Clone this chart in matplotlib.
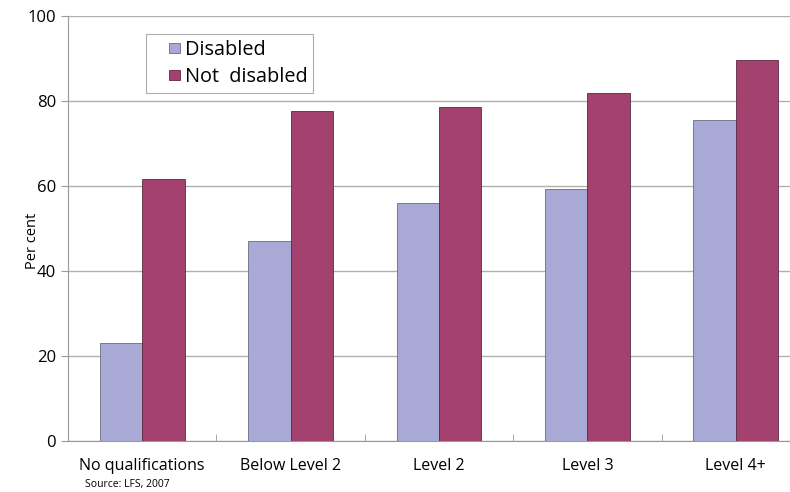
import matplotlib

matplotlib.use("Agg")
import matplotlib.pyplot as plt
import numpy as np
from matplotlib.legend_handler import HandlerPatch
from matplotlib.patches import Patch, Rectangle

categories = ["No qualifications", "Below Level 2", "Level 2", "Level 3", "Level 4+"]
disabled = [23.1, 47.1, 55.9, 59.3, 75.5]
not_disabled = [61.7, 77.7, 78.7, 82.0, 89.7]

plt.rcParams["font.family"] = ["Open Sans", "DejaVu Sans"]


def square_right(legend, orig_handle, xdescent, ydescent, width, height, fontsize):
    # small square sitting at the right end of the handle box
    s = height * 0.85
    return Rectangle((-xdescent + width - s, -ydescent + (height - s) / 2), s, s)


fig = plt.figure(figsize=(7.9, 4.92), dpi=100)
# axes extends a little beyond the right edge, as in the source image
ax = fig.add_axes([68 / 790, 51 / 492, 742 / 790, 425 / 492])

x = np.arange(len(categories))
w = 0.286
ax.bar(x - w / 2, disabled, w, color="#a9a9d6", edgecolor="#6a6a80", linewidth=0.6,
       label="Disabled", zorder=3)
ax.bar(x + w / 2, not_disabled, w, color="#a3426f", edgecolor="#5a2a40", linewidth=0.6,
       label="Not  disabled", zorder=3)

ax.set_xlim(-0.5, len(categories) - 0.5)
ax.set_ylim(0, 100)
ax.set_yticks(range(0, 101, 20))
ax.yaxis.grid(True, color="#b0b0b0", linewidth=1.0, zorder=0)
ax.set_axisbelow(True)

ax.set_xticks(x)
ax.set_xticklabels(categories, fontsize=11.5)
ax.set_xticks(np.arange(len(categories) + 1) - 0.5, minor=True)
ax.tick_params(axis="x", which="major", length=0, pad=12)
ax.tick_params(axis="x", which="minor", length=5, color="#999999", direction="in")
ax.tick_params(axis="y", length=5, color="#999999", labelsize=12, direction="out")

for side in ["top", "right"]:
    ax.spines[side].set_visible(False)
for side in ["left", "bottom"]:
    ax.spines[side].set_color("#999999")

ax.set_ylabel("Per cent", fontsize=10.5)
ax.yaxis.set_label_coords(-0.038, 0.47)

handles = [
    Patch(facecolor="#a9a9d6", edgecolor="#6a6a80", linewidth=0.6, label="Disabled"),
    Patch(facecolor="#a3426f", edgecolor="#5a2a40", linewidth=0.6, label="Not  disabled"),
]
leg = ax.legend(handles=handles, loc="upper left", bbox_to_anchor=(78 / 742, 1 - 18 / 425),
                borderaxespad=0, fontsize=14.3, frameon=True, fancybox=False,
                handlelength=1.4, handleheight=0.6, handletextpad=0.25, borderpad=0.3,
                labelspacing=0.35, handler_map={Patch: HandlerPatch(patch_func=square_right)})
leg.get_frame().set_edgecolor("#999999")
leg.get_frame().set_linewidth(0.8)

fig.text(85 / 790, 1 - 484 / 492, "Source: LFS, 2007", fontsize=7.5, va="center")

fig.savefig("out.png", dpi=100)
